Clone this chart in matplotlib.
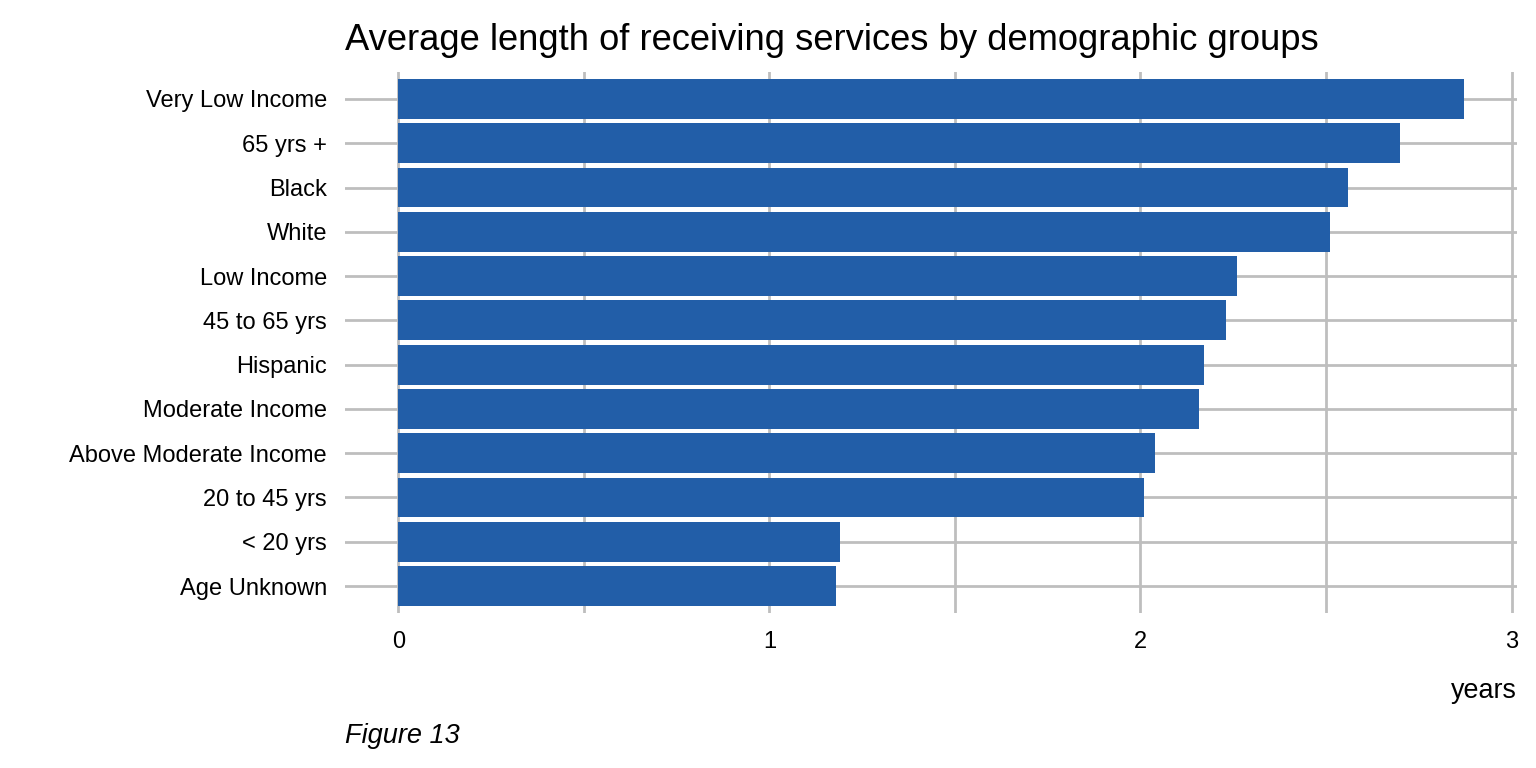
import matplotlib
matplotlib.use("Agg")
import matplotlib.pyplot as plt
import numpy as np

plt.rcParams['font.family'] = ['Liberation Sans', 'DejaVu Sans']

categories = ["Very Low Income", "65 yrs +", "Black", "White", "Low Income",
              "45 to 65 yrs", "Hispanic", "Moderate Income",
              "Above Moderate Income", "20 to 45 yrs", "< 20 yrs", "Age Unknown"]
values = [2.871, 2.698, 2.559, 2.510, 2.260, 2.230, 2.170, 2.159,
          2.038, 2.009, 1.190, 1.179]
xticks = [0, 1, 2, 3]
xtick_labels = ["0", "1", "2", "3"]
minor_ticks = [0.5, 1.5, 2.5]

fig = plt.figure(figsize=(15.36, 7.68), dpi=100)
ax = fig.add_axes([345/1536, 1-612.6/768, (1517-345)/1536, (612.6-72.4)/768])

n = len(categories)
ypos = np.arange(n)[::-1]
ax.barh(ypos, values, height=0.9, color="#225EA8", zorder=3)

vmax = max(values)
ax.set_xlim(-0.05*vmax, vmax*1.05)
ax.set_ylim(-0.6, n-1+0.6)
ax.set_xticks(xticks)
ax.set_xticklabels(xtick_labels)
ax.set_xticks(minor_ticks, minor=True)
ax.set_yticks(ypos)
ax.set_yticklabels(categories)

gc = "#bebebe"
ax.grid(True, which='major', color=gc, linewidth=2.0, zorder=0)
ax.grid(True, which='minor', axis='x', color=gc, linewidth=2.0, zorder=0)
for s in ax.spines.values():
    s.set_visible(False)
ax.tick_params(axis='both', which='both', length=0, labelsize=17, colors='black')
ax.tick_params(axis='y', pad=13)
ax.tick_params(axis='x', pad=13)

fig.text(345/1536, 1-50/768, "Average length of receiving services by demographic groups",
         fontsize=26.2, ha='left', va='baseline')
fig.text(1517/1536, 1-698/768, "years", fontsize=19.4, ha='right', va='baseline')
fig.text(345/1536, 1-743/768, "Figure 13", fontsize=19.5, ha='left', va='baseline', style='italic')

fig.savefig("out.png", dpi=100)
